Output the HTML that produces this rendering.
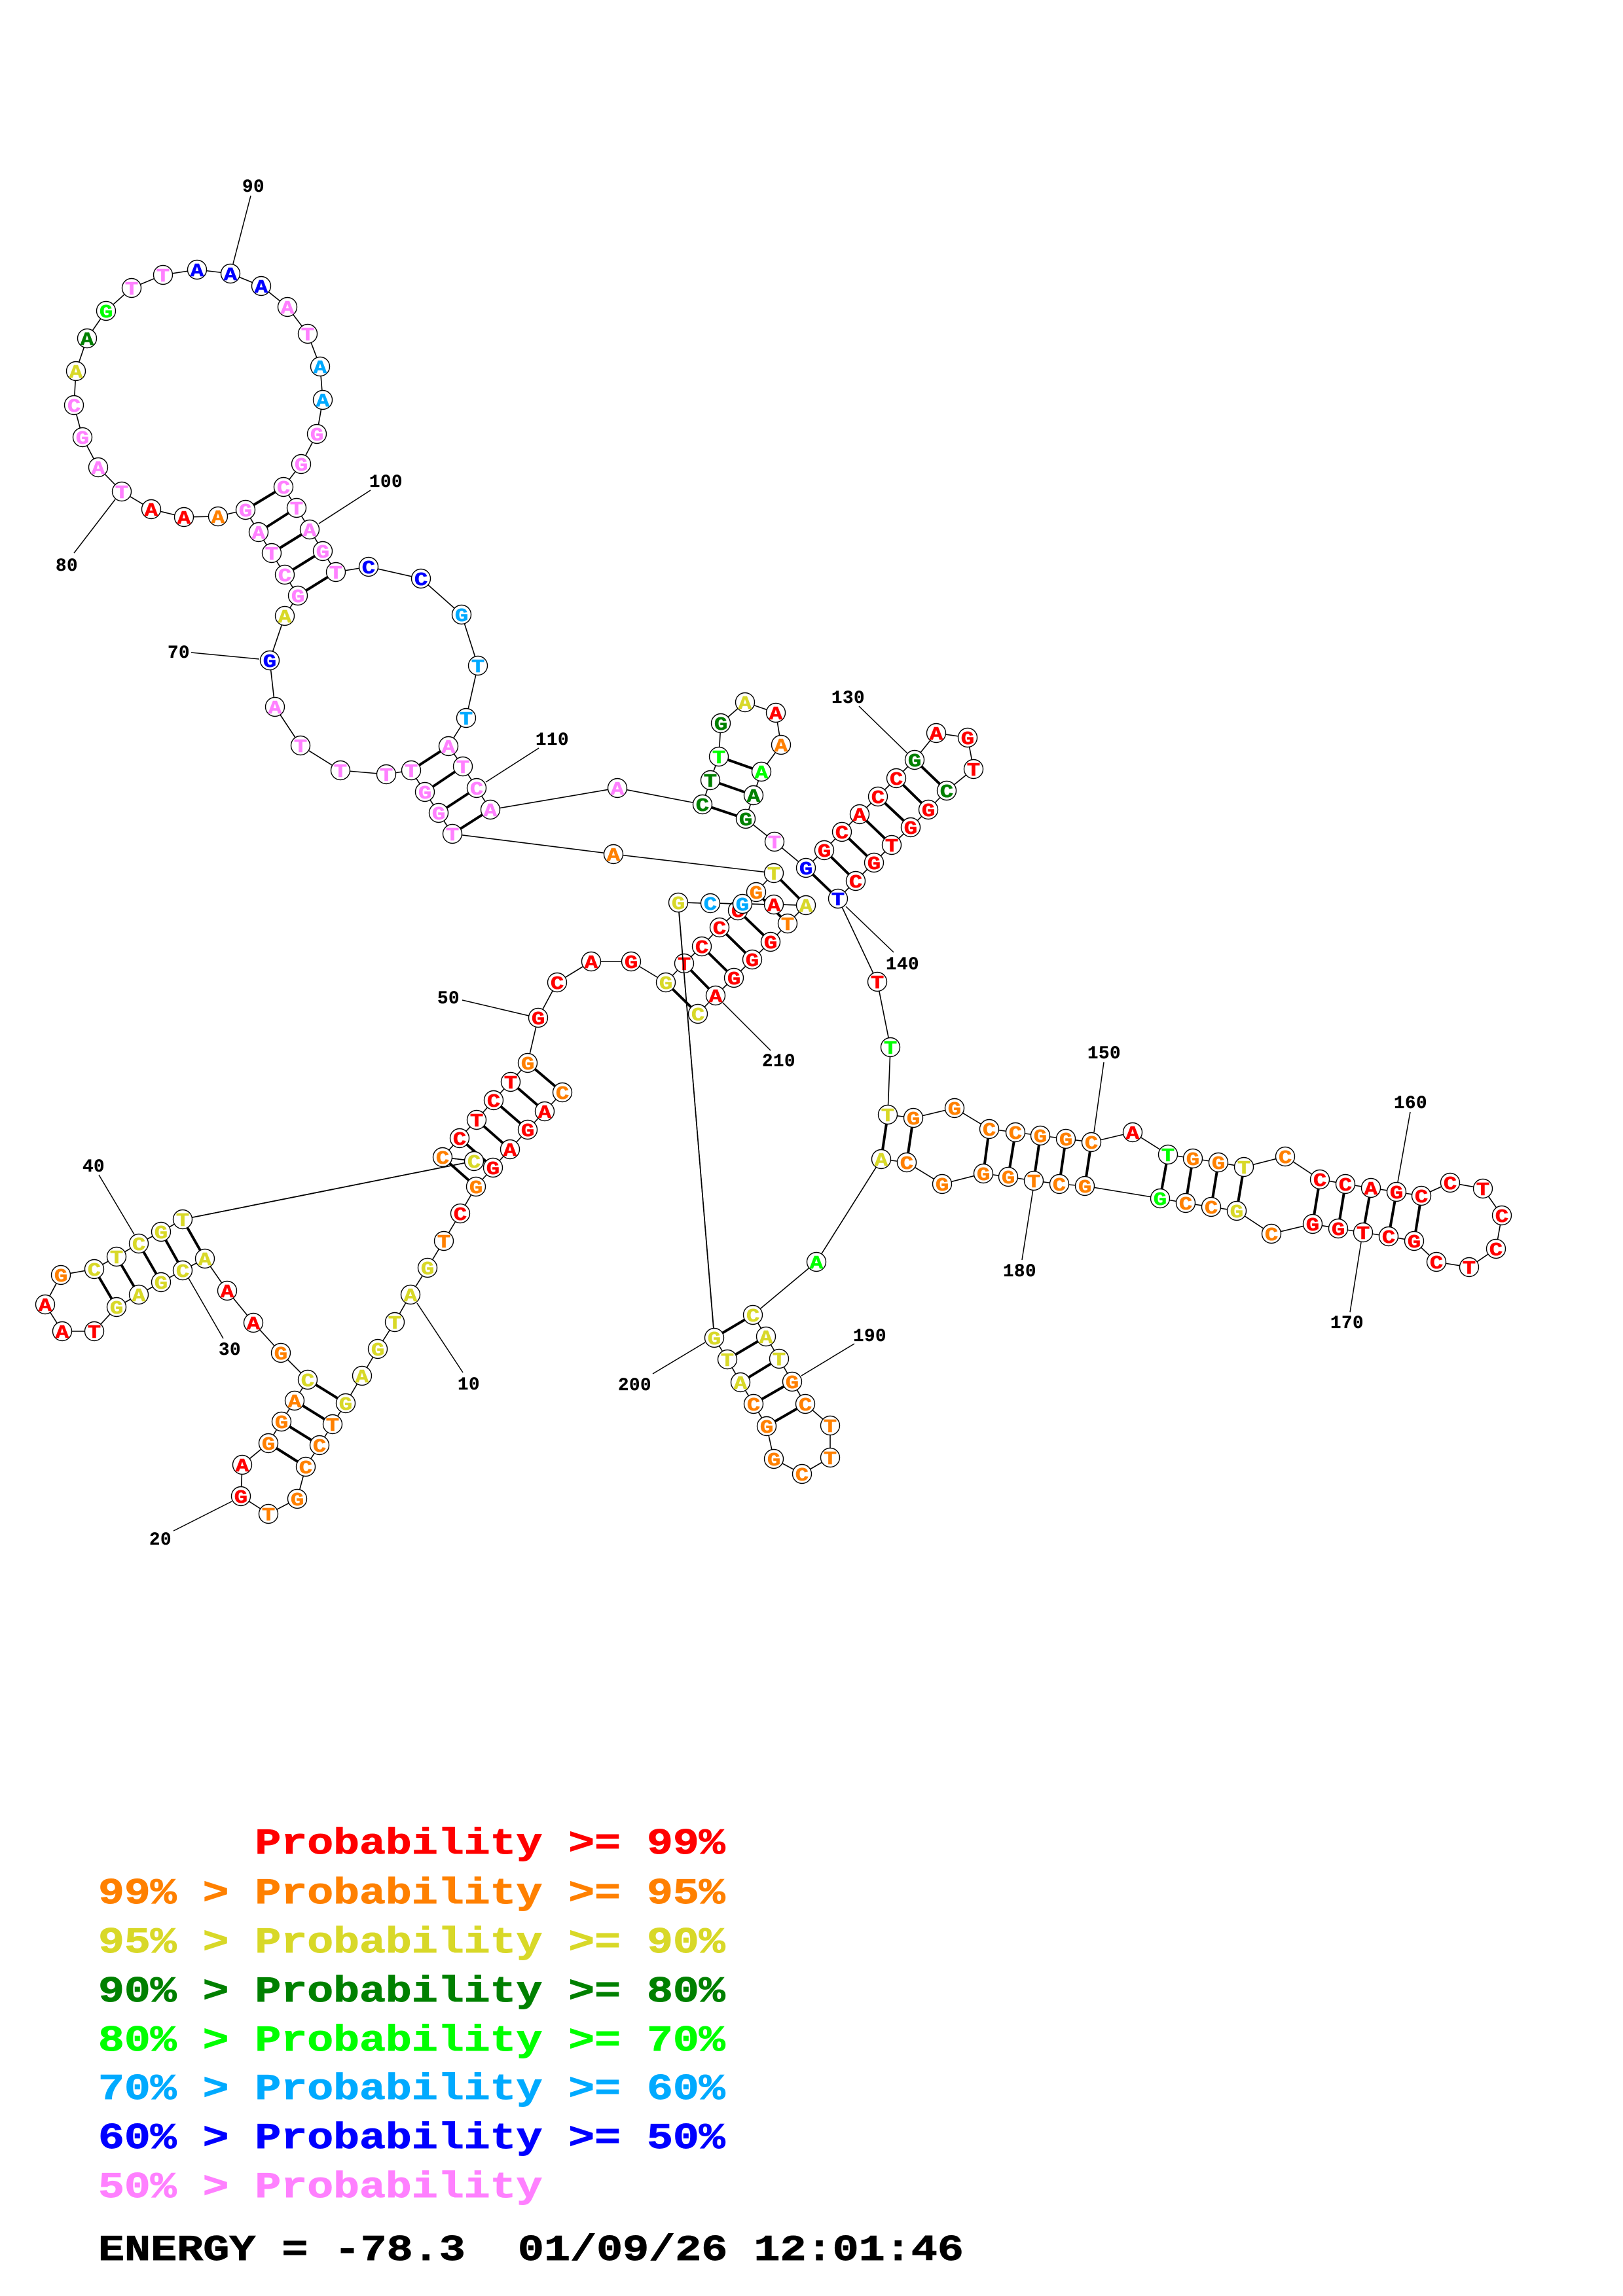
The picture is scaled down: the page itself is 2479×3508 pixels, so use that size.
<!DOCTYPE html>
<html><head><meta charset="utf-8"><title>RNA structure</title>
<style>
html,body{margin:0;padding:0;background:#fff}
svg{display:block}
circle{fill:#fff;stroke:#000;stroke-width:1.4}
text{font-family:"Liberation Mono",monospace;font-weight:bold}
.n text{font-size:28.5px;stroke-width:.6;text-anchor:middle;transform-box:fill-box;transform-origin:center;transform:translate(0,10px) scaleX(1.19)}
.l text{font-size:27.5px;letter-spacing:.5px;fill:#000;stroke:#000;stroke-width:.3}
.k text{font-size:56px;stroke-width:.9;white-space:pre}
.r{fill:#f00;stroke:#f00}.o{fill:#ff8000;stroke:#ff8000}.y{fill:#d8d828;stroke:#d8d828}.d{fill:#008000;stroke:#008000}.g{fill:#0f0;stroke:#0f0}.s{fill:#00aaff;stroke:#00aaff}.b{fill:#00f;stroke:#00f}.p{fill:#ff80ff;stroke:#ff80ff}
.e{fill:#000;stroke:#000}
</style></head><body>
<svg xmlns="http://www.w3.org/2000/svg" width="2479" height="3508" viewBox="0 0 2479 3508">
<rect width="2479" height="3508" fill="#fff"/>
<!-- backbone -->
<polyline fill="none" stroke="#000" stroke-width="1.6" points="859,1669 832,1698 806,1726 779,1756 753,1784 727,1813 703,1854 678,1896 653,1937 627,1978 603,2020 577,2061 553,2102 528,2144 508,2176 488,2208 467,2241 454,2290 410,2313 368,2286 370,2238 410,2205 430,2172 450,2140 470,2108 429,2067 387,2021 347,1972 313,1923 279,1941 246,1959 212,1978 178,1997 144,2034 95,2034 69,1993 93,1948 144,1939 178,1920 212,1900 246,1882 279,1863 724,1774 676,1768 702,1739 728,1711 754,1681 780,1653 806,1624 822,1555 851,1501 903,1469 964,1469 1017,1501 1045,1472 1072,1446 1099,1417 1127,1391 1155,1363 1182,1334 937,1305 691,1274 670,1242 649,1210 628,1177 590,1183 520,1177 459,1139 420,1080 412,1009 435,941 455,910 435,878 415,845 395,813 375,779 333,789 281,790 231,778 186,751 150,714 126,668 113,619 116,567 133,517 162,475 201,440 249,420 301,412 352,418 399,437 439,469 470,510 489,560 493,611 484,663 460,709 433,744 453,776 473,809 493,842 513,874 563,866 643,884 705,939 730,1017 712,1097 685,1140 707,1171 728,1204 749,1237 943,1204 1073,1229 1085,1192 1098,1156 1101,1105 1138,1073 1185,1089 1193,1138 1163,1179 1151,1215 1139,1251 1183,1286 1231,1326 1259,1299 1286,1271 1313,1244 1341,1217 1369,1189 1397,1161 1430,1120 1478,1127 1487,1175 1446,1208 1418,1237 1391,1264 1362,1291 1335,1318 1307,1346 1280,1373 1340,1500 1360,1600 1356,1703 1395,1708 1458,1693 1511,1725 1551,1730 1589,1735 1628,1740 1667,1745 1730,1730 1784,1764 1822,1770 1861,1776 1900,1783 1963,1767 2016,1802 2055,1809 2094,1815 2133,1821 2171,1827 2215,1807 2265,1816 2294,1857 2285,1908 2244,1936 2194,1928 2160,1896 2121,1889 2082,1883 2044,1877 2005,1870 1942,1885 1889,1850 1850,1844 1811,1838 1772,1831 1657,1812 1618,1809 1579,1804 1540,1798 1502,1793 1439,1809 1385,1776 1346,1771 1247,1928 1150,2009 1170,2042 1190,2076 1210,2111 1230,2145 1268,2178 1268,2227 1225,2252 1182,2229 1171,2179 1151,2145 1131,2112 1111,2077 1091,2044 1036,1379 1085,1380 1134,1381 1182,1382 1231,1383 1203,1411 1177,1439 1149,1466 1121,1494 1093,1521 1066,1549"/>
<!-- base pairs -->
<path fill="none" stroke="#000" stroke-width="4" d="M859 1669L806 1624M832 1698L780 1653M806 1726L754 1681M779 1756L728 1711M753 1784L702 1739M727 1813L676 1768M528 2144L470 2108M508 2176L450 2140M488 2208L430 2172M467 2241L410 2205M313 1923L279 1863M279 1941L246 1882M246 1959L212 1900M212 1978L178 1920M178 1997L144 1939M1017 1501L1066 1549M1045 1472L1093 1521M1072 1446L1121 1494M1099 1417L1149 1466M1127 1391L1177 1439M1155 1363L1203 1411M1182 1334L1231 1383M691 1274L749 1237M670 1242L728 1204M649 1210L707 1171M628 1177L685 1140M455 910L513 874M435 878L493 842M415 845L473 809M395 813L453 776M375 779L433 744M1073 1229L1139 1251M1085 1192L1151 1215M1098 1156L1163 1179M1231 1326L1280 1373M1259 1299L1307 1346M1286 1271L1335 1318M1313 1244L1362 1291M1341 1217L1391 1264M1369 1189L1418 1237M1397 1161L1446 1208M1356 1703L1346 1771M1395 1708L1385 1776M1511 1725L1502 1793M1551 1730L1540 1798M1589 1735L1579 1804M1628 1740L1618 1809M1667 1745L1657 1812M1784 1764L1772 1831M1822 1770L1811 1838M1861 1776L1850 1844M1900 1783L1889 1850M2016 1802L2005 1870M2055 1809L2044 1877M2094 1815L2082 1883M2133 1821L2121 1889M2171 1827L2160 1896M1150 2009L1091 2044M1170 2042L1111 2077M1190 2076L1131 2112M1210 2111L1151 2145M1230 2145L1171 2179"/>
<!-- label leaders -->
<path fill="none" stroke="#000" stroke-width="1.5" d="M707 2097L637 1991M265 2339L354 2294M341 2045L288 1953M151 1795L205 1886M706 1528L808 1552M292 997L396 1007M113 845L176 763M383 299L356 403M566 749L487 800M823 1143L742 1195M1312 1079L1386 1151M1365 1455L1292 1385M1686 1623L1671 1730M2154 1699L2135 1806M2062 2005L2079 1898M1561 1925L1578 1817M1305 2053L1224 2102M997 2099L1077 2051M1177 1605L1104 1532"/>
<g class="n">
<circle cx="859" cy="1669" r="14.5"/><text x="859" y="1669" class="o">C</text>
<circle cx="832" cy="1698" r="14.5"/><text x="832" y="1698" class="r">A</text>
<circle cx="806" cy="1726" r="14.5"/><text x="806" y="1726" class="r">G</text>
<circle cx="779" cy="1756" r="14.5"/><text x="779" y="1756" class="r">A</text>
<circle cx="753" cy="1784" r="14.5"/><text x="753" y="1784" class="r">G</text>
<circle cx="727" cy="1813" r="14.5"/><text x="727" y="1813" class="o">G</text>
<circle cx="703" cy="1854" r="14.5"/><text x="703" y="1854" class="r">C</text>
<circle cx="678" cy="1896" r="14.5"/><text x="678" y="1896" class="o">T</text>
<circle cx="653" cy="1937" r="14.5"/><text x="653" y="1937" class="y">G</text>
<circle cx="627" cy="1978" r="14.5"/><text x="627" y="1978" class="y">A</text>
<circle cx="603" cy="2020" r="14.5"/><text x="603" y="2020" class="y">T</text>
<circle cx="577" cy="2061" r="14.5"/><text x="577" y="2061" class="y">G</text>
<circle cx="553" cy="2102" r="14.5"/><text x="553" y="2102" class="y">A</text>
<circle cx="528" cy="2144" r="14.5"/><text x="528" y="2144" class="y">G</text>
<circle cx="508" cy="2176" r="14.5"/><text x="508" y="2176" class="o">T</text>
<circle cx="488" cy="2208" r="14.5"/><text x="488" y="2208" class="o">C</text>
<circle cx="467" cy="2241" r="14.5"/><text x="467" y="2241" class="o">C</text>
<circle cx="454" cy="2290" r="14.5"/><text x="454" y="2290" class="o">G</text>
<circle cx="410" cy="2313" r="14.5"/><text x="410" y="2313" class="o">T</text>
<circle cx="368" cy="2286" r="14.5"/><text x="368" y="2286" class="r">G</text>
<circle cx="370" cy="2238" r="14.5"/><text x="370" y="2238" class="r">A</text>
<circle cx="410" cy="2205" r="14.5"/><text x="410" y="2205" class="o">G</text>
<circle cx="430" cy="2172" r="14.5"/><text x="430" y="2172" class="o">G</text>
<circle cx="450" cy="2140" r="14.5"/><text x="450" y="2140" class="o">A</text>
<circle cx="470" cy="2108" r="14.5"/><text x="470" y="2108" class="y">C</text>
<circle cx="429" cy="2067" r="14.5"/><text x="429" y="2067" class="o">G</text>
<circle cx="387" cy="2021" r="14.5"/><text x="387" y="2021" class="r">A</text>
<circle cx="347" cy="1972" r="14.5"/><text x="347" y="1972" class="r">A</text>
<circle cx="313" cy="1923" r="14.5"/><text x="313" y="1923" class="y">A</text>
<circle cx="279" cy="1941" r="14.5"/><text x="279" y="1941" class="y">C</text>
<circle cx="246" cy="1959" r="14.5"/><text x="246" y="1959" class="y">G</text>
<circle cx="212" cy="1978" r="14.5"/><text x="212" y="1978" class="y">A</text>
<circle cx="178" cy="1997" r="14.5"/><text x="178" y="1997" class="y">G</text>
<circle cx="144" cy="2034" r="14.5"/><text x="144" y="2034" class="r">T</text>
<circle cx="95" cy="2034" r="14.5"/><text x="95" y="2034" class="r">A</text>
<circle cx="69" cy="1993" r="14.5"/><text x="69" y="1993" class="r">A</text>
<circle cx="93" cy="1948" r="14.5"/><text x="93" y="1948" class="o">G</text>
<circle cx="144" cy="1939" r="14.5"/><text x="144" y="1939" class="y">C</text>
<circle cx="178" cy="1920" r="14.5"/><text x="178" y="1920" class="y">T</text>
<circle cx="212" cy="1900" r="14.5"/><text x="212" y="1900" class="y">C</text>
<circle cx="246" cy="1882" r="14.5"/><text x="246" y="1882" class="y">G</text>
<circle cx="279" cy="1863" r="14.5"/><text x="279" y="1863" class="y">T</text>
<circle cx="724" cy="1774" r="14.5"/><text x="724" y="1774" class="y">C</text>
<circle cx="676" cy="1768" r="14.5"/><text x="676" y="1768" class="o">C</text>
<circle cx="702" cy="1739" r="14.5"/><text x="702" y="1739" class="r">C</text>
<circle cx="728" cy="1711" r="14.5"/><text x="728" y="1711" class="r">T</text>
<circle cx="754" cy="1681" r="14.5"/><text x="754" y="1681" class="r">C</text>
<circle cx="780" cy="1653" r="14.5"/><text x="780" y="1653" class="r">T</text>
<circle cx="806" cy="1624" r="14.5"/><text x="806" y="1624" class="o">G</text>
<circle cx="822" cy="1555" r="14.5"/><text x="822" y="1555" class="r">G</text>
<circle cx="851" cy="1501" r="14.5"/><text x="851" y="1501" class="r">C</text>
<circle cx="903" cy="1469" r="14.5"/><text x="903" y="1469" class="r">A</text>
<circle cx="964" cy="1469" r="14.5"/><text x="964" y="1469" class="r">G</text>
<circle cx="1017" cy="1501" r="14.5"/><text x="1017" y="1501" class="y">G</text>
<circle cx="1045" cy="1472" r="14.5"/><text x="1045" y="1472" class="r">T</text>
<circle cx="1072" cy="1446" r="14.5"/><text x="1072" y="1446" class="r">C</text>
<circle cx="1099" cy="1417" r="14.5"/><text x="1099" y="1417" class="r">C</text>
<circle cx="1127" cy="1391" r="14.5"/><text x="1127" y="1391" class="r">C</text>
<circle cx="1155" cy="1363" r="14.5"/><text x="1155" y="1363" class="o">G</text>
<circle cx="1182" cy="1334" r="14.5"/><text x="1182" y="1334" class="y">T</text>
<circle cx="937" cy="1305" r="14.5"/><text x="937" y="1305" class="o">A</text>
<circle cx="691" cy="1274" r="14.5"/><text x="691" y="1274" class="p">T</text>
<circle cx="670" cy="1242" r="14.5"/><text x="670" y="1242" class="p">G</text>
<circle cx="649" cy="1210" r="14.5"/><text x="649" y="1210" class="p">G</text>
<circle cx="628" cy="1177" r="14.5"/><text x="628" y="1177" class="p">T</text>
<circle cx="590" cy="1183" r="14.5"/><text x="590" y="1183" class="p">T</text>
<circle cx="520" cy="1177" r="14.5"/><text x="520" y="1177" class="p">T</text>
<circle cx="459" cy="1139" r="14.5"/><text x="459" y="1139" class="p">T</text>
<circle cx="420" cy="1080" r="14.5"/><text x="420" y="1080" class="p">A</text>
<circle cx="412" cy="1009" r="14.5"/><text x="412" y="1009" class="b">G</text>
<circle cx="435" cy="941" r="14.5"/><text x="435" y="941" class="y">A</text>
<circle cx="455" cy="910" r="14.5"/><text x="455" y="910" class="p">G</text>
<circle cx="435" cy="878" r="14.5"/><text x="435" y="878" class="p">C</text>
<circle cx="415" cy="845" r="14.5"/><text x="415" y="845" class="p">T</text>
<circle cx="395" cy="813" r="14.5"/><text x="395" y="813" class="p">A</text>
<circle cx="375" cy="779" r="14.5"/><text x="375" y="779" class="p">G</text>
<circle cx="333" cy="789" r="14.5"/><text x="333" y="789" class="o">A</text>
<circle cx="281" cy="790" r="14.5"/><text x="281" y="790" class="r">A</text>
<circle cx="231" cy="778" r="14.5"/><text x="231" y="778" class="r">A</text>
<circle cx="186" cy="751" r="14.5"/><text x="186" y="751" class="p">T</text>
<circle cx="150" cy="714" r="14.5"/><text x="150" y="714" class="p">A</text>
<circle cx="126" cy="668" r="14.5"/><text x="126" y="668" class="p">G</text>
<circle cx="113" cy="619" r="14.5"/><text x="113" y="619" class="p">C</text>
<circle cx="116" cy="567" r="14.5"/><text x="116" y="567" class="y">A</text>
<circle cx="133" cy="517" r="14.5"/><text x="133" y="517" class="d">A</text>
<circle cx="162" cy="475" r="14.5"/><text x="162" y="475" class="g">G</text>
<circle cx="201" cy="440" r="14.5"/><text x="201" y="440" class="p">T</text>
<circle cx="249" cy="420" r="14.5"/><text x="249" y="420" class="p">T</text>
<circle cx="301" cy="412" r="14.5"/><text x="301" y="412" class="b">A</text>
<circle cx="352" cy="418" r="14.5"/><text x="352" y="418" class="b">A</text>
<circle cx="399" cy="437" r="14.5"/><text x="399" y="437" class="b">A</text>
<circle cx="439" cy="469" r="14.5"/><text x="439" y="469" class="p">A</text>
<circle cx="470" cy="510" r="14.5"/><text x="470" y="510" class="p">T</text>
<circle cx="489" cy="560" r="14.5"/><text x="489" y="560" class="s">A</text>
<circle cx="493" cy="611" r="14.5"/><text x="493" y="611" class="s">A</text>
<circle cx="484" cy="663" r="14.5"/><text x="484" y="663" class="p">G</text>
<circle cx="460" cy="709" r="14.5"/><text x="460" y="709" class="p">G</text>
<circle cx="433" cy="744" r="14.5"/><text x="433" y="744" class="p">C</text>
<circle cx="453" cy="776" r="14.5"/><text x="453" y="776" class="p">T</text>
<circle cx="473" cy="809" r="14.5"/><text x="473" y="809" class="p">A</text>
<circle cx="493" cy="842" r="14.5"/><text x="493" y="842" class="p">G</text>
<circle cx="513" cy="874" r="14.5"/><text x="513" y="874" class="p">T</text>
<circle cx="563" cy="866" r="14.5"/><text x="563" y="866" class="b">C</text>
<circle cx="643" cy="884" r="14.5"/><text x="643" y="884" class="b">C</text>
<circle cx="705" cy="939" r="14.5"/><text x="705" y="939" class="s">G</text>
<circle cx="730" cy="1017" r="14.5"/><text x="730" y="1017" class="s">T</text>
<circle cx="712" cy="1097" r="14.5"/><text x="712" y="1097" class="s">T</text>
<circle cx="685" cy="1140" r="14.5"/><text x="685" y="1140" class="p">A</text>
<circle cx="707" cy="1171" r="14.5"/><text x="707" y="1171" class="p">T</text>
<circle cx="728" cy="1204" r="14.5"/><text x="728" y="1204" class="p">C</text>
<circle cx="749" cy="1237" r="14.5"/><text x="749" y="1237" class="p">A</text>
<circle cx="943" cy="1204" r="14.5"/><text x="943" y="1204" class="p">A</text>
<circle cx="1073" cy="1229" r="14.5"/><text x="1073" y="1229" class="d">C</text>
<circle cx="1085" cy="1192" r="14.5"/><text x="1085" y="1192" class="d">T</text>
<circle cx="1098" cy="1156" r="14.5"/><text x="1098" y="1156" class="g">T</text>
<circle cx="1101" cy="1105" r="14.5"/><text x="1101" y="1105" class="d">G</text>
<circle cx="1138" cy="1073" r="14.5"/><text x="1138" y="1073" class="y">A</text>
<circle cx="1185" cy="1089" r="14.5"/><text x="1185" y="1089" class="r">A</text>
<circle cx="1193" cy="1138" r="14.5"/><text x="1193" y="1138" class="o">A</text>
<circle cx="1163" cy="1179" r="14.5"/><text x="1163" y="1179" class="g">A</text>
<circle cx="1151" cy="1215" r="14.5"/><text x="1151" y="1215" class="d">A</text>
<circle cx="1139" cy="1251" r="14.5"/><text x="1139" y="1251" class="d">G</text>
<circle cx="1183" cy="1286" r="14.5"/><text x="1183" y="1286" class="p">T</text>
<circle cx="1231" cy="1326" r="14.5"/><text x="1231" y="1326" class="b">G</text>
<circle cx="1259" cy="1299" r="14.5"/><text x="1259" y="1299" class="r">G</text>
<circle cx="1286" cy="1271" r="14.5"/><text x="1286" y="1271" class="r">C</text>
<circle cx="1313" cy="1244" r="14.5"/><text x="1313" y="1244" class="r">A</text>
<circle cx="1341" cy="1217" r="14.5"/><text x="1341" y="1217" class="r">C</text>
<circle cx="1369" cy="1189" r="14.5"/><text x="1369" y="1189" class="r">C</text>
<circle cx="1397" cy="1161" r="14.5"/><text x="1397" y="1161" class="d">G</text>
<circle cx="1430" cy="1120" r="14.5"/><text x="1430" y="1120" class="r">A</text>
<circle cx="1478" cy="1127" r="14.5"/><text x="1478" y="1127" class="r">G</text>
<circle cx="1487" cy="1175" r="14.5"/><text x="1487" y="1175" class="r">T</text>
<circle cx="1446" cy="1208" r="14.5"/><text x="1446" y="1208" class="d">C</text>
<circle cx="1418" cy="1237" r="14.5"/><text x="1418" y="1237" class="r">G</text>
<circle cx="1391" cy="1264" r="14.5"/><text x="1391" y="1264" class="r">G</text>
<circle cx="1362" cy="1291" r="14.5"/><text x="1362" y="1291" class="r">T</text>
<circle cx="1335" cy="1318" r="14.5"/><text x="1335" y="1318" class="r">G</text>
<circle cx="1307" cy="1346" r="14.5"/><text x="1307" y="1346" class="r">C</text>
<circle cx="1280" cy="1373" r="14.5"/><text x="1280" y="1373" class="b">T</text>
<circle cx="1340" cy="1500" r="14.5"/><text x="1340" y="1500" class="r">T</text>
<circle cx="1360" cy="1600" r="14.5"/><text x="1360" y="1600" class="g">T</text>
<circle cx="1356" cy="1703" r="14.5"/><text x="1356" y="1703" class="y">T</text>
<circle cx="1395" cy="1708" r="14.5"/><text x="1395" y="1708" class="o">G</text>
<circle cx="1458" cy="1693" r="14.5"/><text x="1458" y="1693" class="o">G</text>
<circle cx="1511" cy="1725" r="14.5"/><text x="1511" y="1725" class="o">C</text>
<circle cx="1551" cy="1730" r="14.5"/><text x="1551" y="1730" class="o">C</text>
<circle cx="1589" cy="1735" r="14.5"/><text x="1589" y="1735" class="o">G</text>
<circle cx="1628" cy="1740" r="14.5"/><text x="1628" y="1740" class="o">G</text>
<circle cx="1667" cy="1745" r="14.5"/><text x="1667" y="1745" class="o">C</text>
<circle cx="1730" cy="1730" r="14.5"/><text x="1730" y="1730" class="r">A</text>
<circle cx="1784" cy="1764" r="14.5"/><text x="1784" y="1764" class="g">T</text>
<circle cx="1822" cy="1770" r="14.5"/><text x="1822" y="1770" class="o">G</text>
<circle cx="1861" cy="1776" r="14.5"/><text x="1861" y="1776" class="o">G</text>
<circle cx="1900" cy="1783" r="14.5"/><text x="1900" y="1783" class="y">T</text>
<circle cx="1963" cy="1767" r="14.5"/><text x="1963" y="1767" class="o">C</text>
<circle cx="2016" cy="1802" r="14.5"/><text x="2016" y="1802" class="r">C</text>
<circle cx="2055" cy="1809" r="14.5"/><text x="2055" y="1809" class="r">C</text>
<circle cx="2094" cy="1815" r="14.5"/><text x="2094" y="1815" class="r">A</text>
<circle cx="2133" cy="1821" r="14.5"/><text x="2133" y="1821" class="r">G</text>
<circle cx="2171" cy="1827" r="14.5"/><text x="2171" y="1827" class="r">C</text>
<circle cx="2215" cy="1807" r="14.5"/><text x="2215" y="1807" class="r">C</text>
<circle cx="2265" cy="1816" r="14.5"/><text x="2265" y="1816" class="r">T</text>
<circle cx="2294" cy="1857" r="14.5"/><text x="2294" y="1857" class="r">C</text>
<circle cx="2285" cy="1908" r="14.5"/><text x="2285" y="1908" class="r">C</text>
<circle cx="2244" cy="1936" r="14.5"/><text x="2244" y="1936" class="r">T</text>
<circle cx="2194" cy="1928" r="14.5"/><text x="2194" y="1928" class="r">C</text>
<circle cx="2160" cy="1896" r="14.5"/><text x="2160" y="1896" class="r">G</text>
<circle cx="2121" cy="1889" r="14.5"/><text x="2121" y="1889" class="r">C</text>
<circle cx="2082" cy="1883" r="14.5"/><text x="2082" y="1883" class="r">T</text>
<circle cx="2044" cy="1877" r="14.5"/><text x="2044" y="1877" class="r">G</text>
<circle cx="2005" cy="1870" r="14.5"/><text x="2005" y="1870" class="r">G</text>
<circle cx="1942" cy="1885" r="14.5"/><text x="1942" y="1885" class="o">C</text>
<circle cx="1889" cy="1850" r="14.5"/><text x="1889" y="1850" class="y">G</text>
<circle cx="1850" cy="1844" r="14.5"/><text x="1850" y="1844" class="o">C</text>
<circle cx="1811" cy="1838" r="14.5"/><text x="1811" y="1838" class="o">C</text>
<circle cx="1772" cy="1831" r="14.5"/><text x="1772" y="1831" class="g">G</text>
<circle cx="1657" cy="1812" r="14.5"/><text x="1657" y="1812" class="o">G</text>
<circle cx="1618" cy="1809" r="14.5"/><text x="1618" y="1809" class="o">C</text>
<circle cx="1579" cy="1804" r="14.5"/><text x="1579" y="1804" class="o">T</text>
<circle cx="1540" cy="1798" r="14.5"/><text x="1540" y="1798" class="o">G</text>
<circle cx="1502" cy="1793" r="14.5"/><text x="1502" y="1793" class="o">G</text>
<circle cx="1439" cy="1809" r="14.5"/><text x="1439" y="1809" class="o">G</text>
<circle cx="1385" cy="1776" r="14.5"/><text x="1385" y="1776" class="o">C</text>
<circle cx="1346" cy="1771" r="14.5"/><text x="1346" y="1771" class="y">A</text>
<circle cx="1247" cy="1928" r="14.5"/><text x="1247" y="1928" class="g">A</text>
<circle cx="1150" cy="2009" r="14.5"/><text x="1150" y="2009" class="y">C</text>
<circle cx="1170" cy="2042" r="14.5"/><text x="1170" y="2042" class="y">A</text>
<circle cx="1190" cy="2076" r="14.5"/><text x="1190" y="2076" class="y">T</text>
<circle cx="1210" cy="2111" r="14.5"/><text x="1210" y="2111" class="o">G</text>
<circle cx="1230" cy="2145" r="14.5"/><text x="1230" y="2145" class="o">C</text>
<circle cx="1268" cy="2178" r="14.5"/><text x="1268" y="2178" class="o">T</text>
<circle cx="1268" cy="2227" r="14.5"/><text x="1268" y="2227" class="o">T</text>
<circle cx="1225" cy="2252" r="14.5"/><text x="1225" y="2252" class="o">C</text>
<circle cx="1182" cy="2229" r="14.5"/><text x="1182" y="2229" class="o">G</text>
<circle cx="1171" cy="2179" r="14.5"/><text x="1171" y="2179" class="o">G</text>
<circle cx="1151" cy="2145" r="14.5"/><text x="1151" y="2145" class="o">C</text>
<circle cx="1131" cy="2112" r="14.5"/><text x="1131" y="2112" class="y">A</text>
<circle cx="1111" cy="2077" r="14.5"/><text x="1111" y="2077" class="y">T</text>
<circle cx="1091" cy="2044" r="14.5"/><text x="1091" y="2044" class="y">G</text>
<circle cx="1036" cy="1379" r="14.5"/><text x="1036" y="1379" class="y">G</text>
<circle cx="1085" cy="1380" r="14.5"/><text x="1085" y="1380" class="s">C</text>
<circle cx="1134" cy="1381" r="14.5"/><text x="1134" y="1381" class="s">G</text>
<circle cx="1182" cy="1382" r="14.5"/><text x="1182" y="1382" class="r">A</text>
<circle cx="1231" cy="1383" r="14.5"/><text x="1231" y="1383" class="y">A</text>
<circle cx="1203" cy="1411" r="14.5"/><text x="1203" y="1411" class="o">T</text>
<circle cx="1177" cy="1439" r="14.5"/><text x="1177" y="1439" class="r">G</text>
<circle cx="1149" cy="1466" r="14.5"/><text x="1149" y="1466" class="r">G</text>
<circle cx="1121" cy="1494" r="14.5"/><text x="1121" y="1494" class="r">G</text>
<circle cx="1093" cy="1521" r="14.5"/><text x="1093" y="1521" class="r">A</text>
<circle cx="1066" cy="1549" r="14.5"/><text x="1066" y="1549" class="y">C</text>
</g>
<!-- connectors that cross over circles -->
<path fill="none" stroke="#000" stroke-width="1.6" d="M1090 2029L1037 1394M294 1860L709 1777M691 1770L709 1772M1051 1379L1070 1380M1100 1380L1119 1381M1149 1381L1167 1382M1197 1382L1216 1383"/>
<g class="l">
<text x="699" y="2123">10</text>
<text x="228" y="2360">20</text>
<text x="334" y="2070">30</text>
<text x="126" y="1790">40</text>
<text x="668" y="1533">50</text>
<text x="256" y="1005">70</text>
<text x="85" y="872">80</text>
<text x="370" y="293">90</text>
<text x="564" y="744">100</text>
<text x="818" y="1138">110</text>
<text x="1270" y="1074">130</text>
<text x="1353" y="1481">140</text>
<text x="1661" y="1617">150</text>
<text x="2129" y="1693">160</text>
<text x="2032" y="2029">170</text>
<text x="1532" y="1950">180</text>
<text x="1303" y="2049">190</text>
<text x="944" y="2124">200</text>
<text x="1164" y="1629">210</text>
</g>
<g class="k">
<text transform="matrix(1.1875 0 0 1 150 2832)" class="r">      Probability &gt;= 99%</text>
<text transform="matrix(1.1875 0 0 1 150 2908)" class="o">99% &gt; Probability &gt;= 95%</text>
<text transform="matrix(1.1875 0 0 1 150 2983)" class="y">95% &gt; Probability &gt;= 90%</text>
<text transform="matrix(1.1875 0 0 1 150 3058)" class="d">90% &gt; Probability &gt;= 80%</text>
<text transform="matrix(1.1875 0 0 1 150 3133)" class="g">80% &gt; Probability &gt;= 70%</text>
<text transform="matrix(1.1875 0 0 1 150 3207)" class="s">70% &gt; Probability &gt;= 60%</text>
<text transform="matrix(1.1875 0 0 1 150 3282)" class="b">60% &gt; Probability &gt;= 50%</text>
<text transform="matrix(1.1875 0 0 1 150 3357)" class="p">50% &gt; Probability</text>
<text transform="matrix(1.192 0 0 1 150 3453)" class="e">ENERGY = -78.3  01/09/26 12:01:46</text>
</g>
</svg>
</body></html>
